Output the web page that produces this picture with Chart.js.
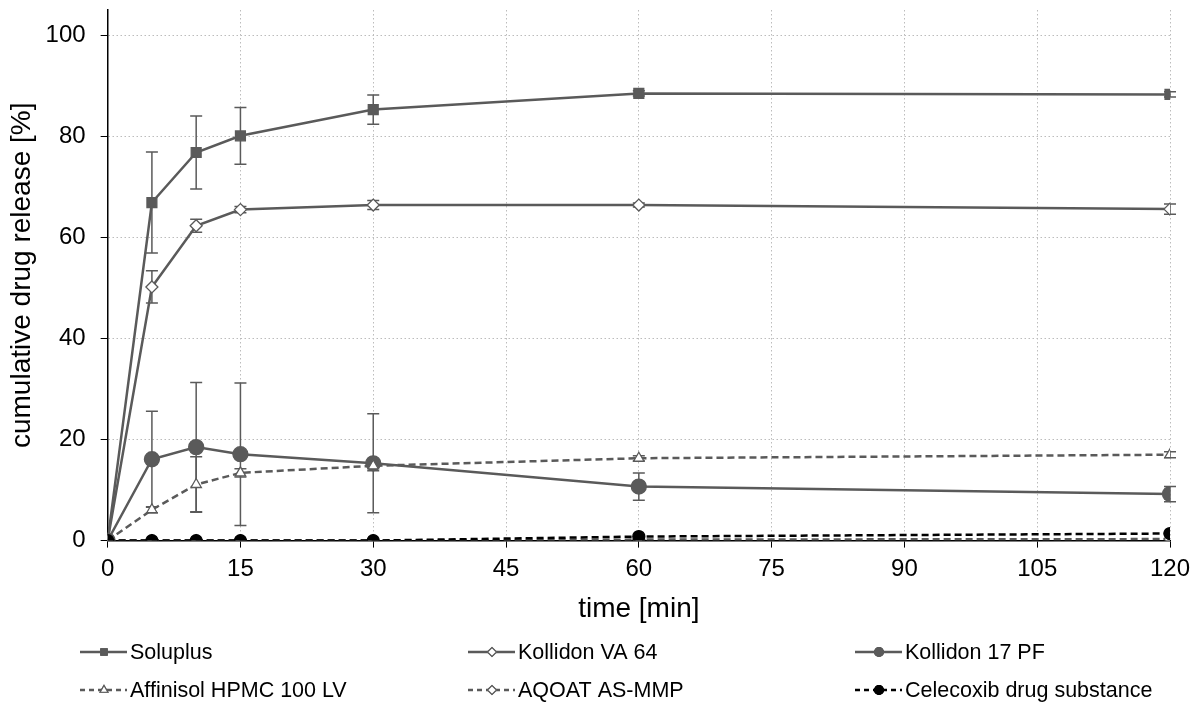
<!DOCTYPE html>
<html>
<head>
<meta charset="utf-8">
<script src="https://cdn.jsdelivr.net/npm/chart.js@4/dist/chart.umd.min.js"></script>
<style>
  html, body { margin: 0; padding: 0; background: #fff; }
  #wrap { width: 1200px; height: 702px; position: relative; }
</style>
</head>
<body>
<div id="wrap"><canvas id="releaseChart"></canvas></div>
<script>
// data
const times = [0, 5, 10, 15, 30, 60, 120];
const xTicks = [0, 15, 30, 45, 60, 75, 90, 105, 120];
const yTicks = [0, 20, 40, 60, 80, 100];

const soluplus = [0, 66.9, 76.8, 80.1, 85.3, 88.5, 88.3];
const soluplusErr = [0, 10.0, 7.2, 5.6, 2.9, 0.5, 0.5];
const kollidonVA = [0, 50.2, 62.3, 65.5, 66.4, 66.4, 65.6];
const kollidonVAErr = [0, 3.2, 1.3, 0.6, 0.9, 0.4, 1.0];
const kollidon17 = [0, 16.1, 18.5, 17.1, 15.3, 10.7, 9.2];
const kollidon17Err = [0, 9.5, 12.8, 14.1, 9.8, 2.7, 1.5];
const affinisol = [0, 6.1, 11.1, 13.4, 14.8, 16.3, 17.0];
const affinisolErr = [0, 0.6, 5.5, 0.8, 1.0, 0.5, 0.6];
const aqoat = [0, 0, 0, 0, 0, 0.2, 0.3];
const aqoatErr = [0, 0, 0, 0, 0, 0, 0];
const celecoxib = [0, 0, 0, 0, 0, 0.8, 1.4];
const celecoxibErr = [0, 0, 0, 0, 0, 0, 0];

const grey = '#5a5a5a';
const font = 'Liberation Sans, Arial, sans-serif';

function pts(vals) {
    return times.map((t, i) => ({ x: t, y: vals[i] }));
}

const series = [
    { label: 'Soluplus', vals: soluplus, err: soluplusErr, style: 'rect', fill: grey, color: grey, dash: [], r: 7 },
    { label: 'Kollidon VA 64', vals: kollidonVA, err: kollidonVAErr, style: 'rectRot', fill: '#fff', color: grey, dash: [], r: 6 },
    { label: 'Kollidon 17 PF', vals: kollidon17, err: kollidon17Err, style: 'circle', fill: grey, color: grey, dash: [], r: 7.5 },
    { label: 'Affinisol HPMC 100 LV', vals: affinisol, err: affinisolErr, style: 'triangle', fill: '#fff', color: grey, dash: [7, 4], r: 6 },
    { label: 'AQOAT AS-MMP', vals: aqoat, err: aqoatErr, style: 'rectRot', fill: '#fff', color: grey, dash: [7, 4], r: 6 },
    { label: 'Celecoxib drug substance', vals: celecoxib, err: celecoxibErr, style: 'circle', fill: '#000', color: '#000', dash: [7, 4], r: 6 }
];

// error bars drawn through the scales
const errorBars = {
    id: 'errorBars',
    beforeDatasetsDraw(chart) {
        const ctx = chart.ctx;
        const xs = chart.scales.x, ys = chart.scales.y;
        ctx.save();
        ctx.strokeStyle = grey;
        ctx.lineWidth = 1.5;
        series.forEach(s => {
            times.forEach((t, i) => {
                const e = s.err[i];
                if (!e) return;
                const px = xs.getPixelForValue(t);
                const top = ys.getPixelForValue(s.vals[i] + e);
                const bot = ys.getPixelForValue(Math.max(0, s.vals[i] - e));
                ctx.beginPath();
                ctx.moveTo(px, top); ctx.lineTo(px, bot);
                ctx.moveTo(px - 6, top); ctx.lineTo(px + 6, top);
                ctx.moveTo(px - 6, bot); ctx.lineTo(px + 6, bot);
                ctx.stroke();
            });
        });
        ctx.restore();
    }
};

// legend in three columns under the axis
const gridLegend = {
    id: 'gridLegend',
    afterDraw(chart) {
        const ctx = chart.ctx;
        const colX = [80, 468, 855];
        const rowY = [652, 690];
        ctx.save();
        ctx.font = '21.5px ' + font;
        ctx.textBaseline = 'middle';
        series.forEach((s, i) => {
            const x = colX[i % 3], y = rowY[Math.floor(i / 3)];
            ctx.strokeStyle = s.color;
            ctx.lineWidth = 2.5;
            ctx.setLineDash(s.dash.length ? [5, 4] : []);
            ctx.beginPath();
            ctx.moveTo(x, y); ctx.lineTo(x + 47, y);
            ctx.stroke();
            ctx.setLineDash([]);
            ctx.fillStyle = s.fill;
            ctx.lineWidth = 1.2;
            Chart.helpers.drawPoint(ctx, { pointStyle: s.style, radius: 4.5, borderWidth: 1.2 }, x + 24, y);
            ctx.fill();
            ctx.stroke();
            ctx.fillStyle = '#000';
            ctx.fillText(s.label, x + 50, y + 1);
        });
        ctx.restore();
    }
};

const ctx = document.getElementById('releaseChart').getContext('2d');
new Chart(ctx, {
    type: 'line',
    data: {
        datasets: series.map(s => ({
            label: s.label,
            data: pts(s.vals),
            borderColor: s.color,
            borderWidth: 2.5,
            borderDash: s.dash,
            pointStyle: s.style,
            pointRadius: s.r,
            pointBackgroundColor: s.fill,
            pointBorderColor: s.color,
            pointBorderWidth: 1.3,
            tension: 0,
            fill: false
        })).reverse()
    },
    options: {
        responsive: true,
        maintainAspectRatio: false,
        animation: false,
        layout: { padding: { top: 10, right: 30, left: 5, bottom: 76 } },
        plugins: {
            legend: { display: false },
            tooltip: { enabled: false }
        },
        scales: {
            x: {
                type: 'linear',
                min: 0,
                max: 120,
                afterBuildTicks: scale => { scale.ticks = xTicks.map(v => ({ value: v })); },
                grid: {
                    color: '#bcbcbc',
                    tickColor: '#000',
                    tickLength: 7,
                    tickBorderDash: []
                },
                border: { color: '#000', width: 1.5, dash: [1.5, 2.5] },
                ticks: { color: '#000', font: { family: font, size: 24 }, padding: 7, maxRotation: 0 },
                title: { display: true, text: 'time [min]', color: '#000', font: { family: font, size: 28 }, padding: { top: 2, bottom: 0 } }
            },
            y: {
                min: 0,
                max: 105,
                afterBuildTicks: scale => { scale.ticks = yTicks.map(v => ({ value: v })); },
                afterFit: scale => { scale.paddingTop = 0; scale.width -= 8; },
                grid: {
                    color: '#bcbcbc',
                    tickColor: '#000',
                    tickLength: 7,
                    tickBorderDash: []
                },
                border: { color: '#000', width: 1.5, dash: [1.5, 2.5] },
                ticks: { color: '#000', font: { family: font, size: 24 }, padding: 15 },
                title: { display: true, text: 'cumulative drug release [%]', color: '#000', font: { family: font, size: 28 }, padding: { top: 0, bottom: 0 } }
            }
        }
    },
    plugins: [errorBars, gridLegend]
});
</script>
</body>
</html>
